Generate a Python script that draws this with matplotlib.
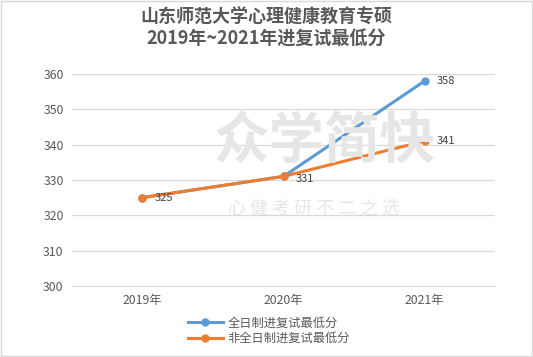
import matplotlib
matplotlib.use("Agg")
import matplotlib.pyplot as plt

plt.rcParams['font.family'] = ['Noto Sans CJK SC', 'DejaVu Sans']

# datos
anios = ["2019年", "2020年", "2021年"]
quanrizhi = [325, 331, 358]
feiquanrizhi = [325, 331, 341]
etiquetas_azul = [None, None, 358]
etiquetas_naranja = [325, 331, 341]

azul = "#5B9BD5"
naranja = "#ED7D31"
gris = "#595959"

fig = plt.figure(figsize=(5.33, 3.57), dpi=100)
ax = fig.add_axes([0.135, 0.199, 0.794, 0.594])

x = range(len(anios))
ax.plot(x, quanrizhi, color=azul, lw=2.2, marker="o", ms=5, label="全日制进复试最低分", zorder=3)
ax.plot(x, feiquanrizhi, color=naranja, lw=2.2, marker="o", ms=5, label="非全日制进复试最低分", zorder=4)

for i, v in enumerate(etiquetas_azul):
    if v is not None:
        ax.annotate(str(v), (i, v), xytext=(9, 0), textcoords="offset points",
                    va="center", fontsize=8, color="#404040")
for i, v in enumerate(etiquetas_naranja):
    if v is not None:
        dy = -2 if i == 1 else 0
        ax.annotate(str(v), (i, v), xytext=(9, dy), textcoords="offset points",
                    va="center", fontsize=8, color="#404040", zorder=5)

ax.set_xlim(-0.5, 2.5)
ax.set_ylim(300, 360)
ax.set_yticks(range(300, 361, 10))
ax.set_xticks(list(x))
ax.set_xticklabels(anios)
ax.grid(axis="y", color="#D9D9D9", lw=0.9)
ax.set_axisbelow(True)
for s in ["top", "right", "left"]:
    ax.spines[s].set_visible(False)
ax.spines["bottom"].set_color("#D9D9D9")
ax.tick_params(axis="both", length=0, labelsize=8.8, colors=gris, pad=6)

# marca de agua
fig.text(0.61, 0.60, "众学简快", fontsize=40, fontweight="bold", color="#E6E6E6",
         ha="center", va="center", zorder=0)
fig.text(0.59, 0.415, "心 健 考 研 不 二 之 选", fontsize=13, color="#E6E6E6",
         style="italic", ha="center", va="center", zorder=0)

fig.suptitle("山东师范大学心理健康教育专硕\n2019年~2021年进复试最低分",
             y=0.978, fontsize=13, fontweight="bold", color=gris, linespacing=1.2)

fig.legend(loc="upper center", bbox_to_anchor=(0.505, 0.13), ncol=1, frameon=False,
           fontsize=8.8, labelcolor=gris, handlelength=2.8, borderpad=0,
           labelspacing=0.2, handletextpad=0.4)

fig.patches.append(plt.Rectangle((0.001, 0.003), 0.997, 0.995, transform=fig.transFigure,
                                 fill=False, edgecolor="#D9D9D9", lw=1))

fig.savefig("out.png", dpi=100)
